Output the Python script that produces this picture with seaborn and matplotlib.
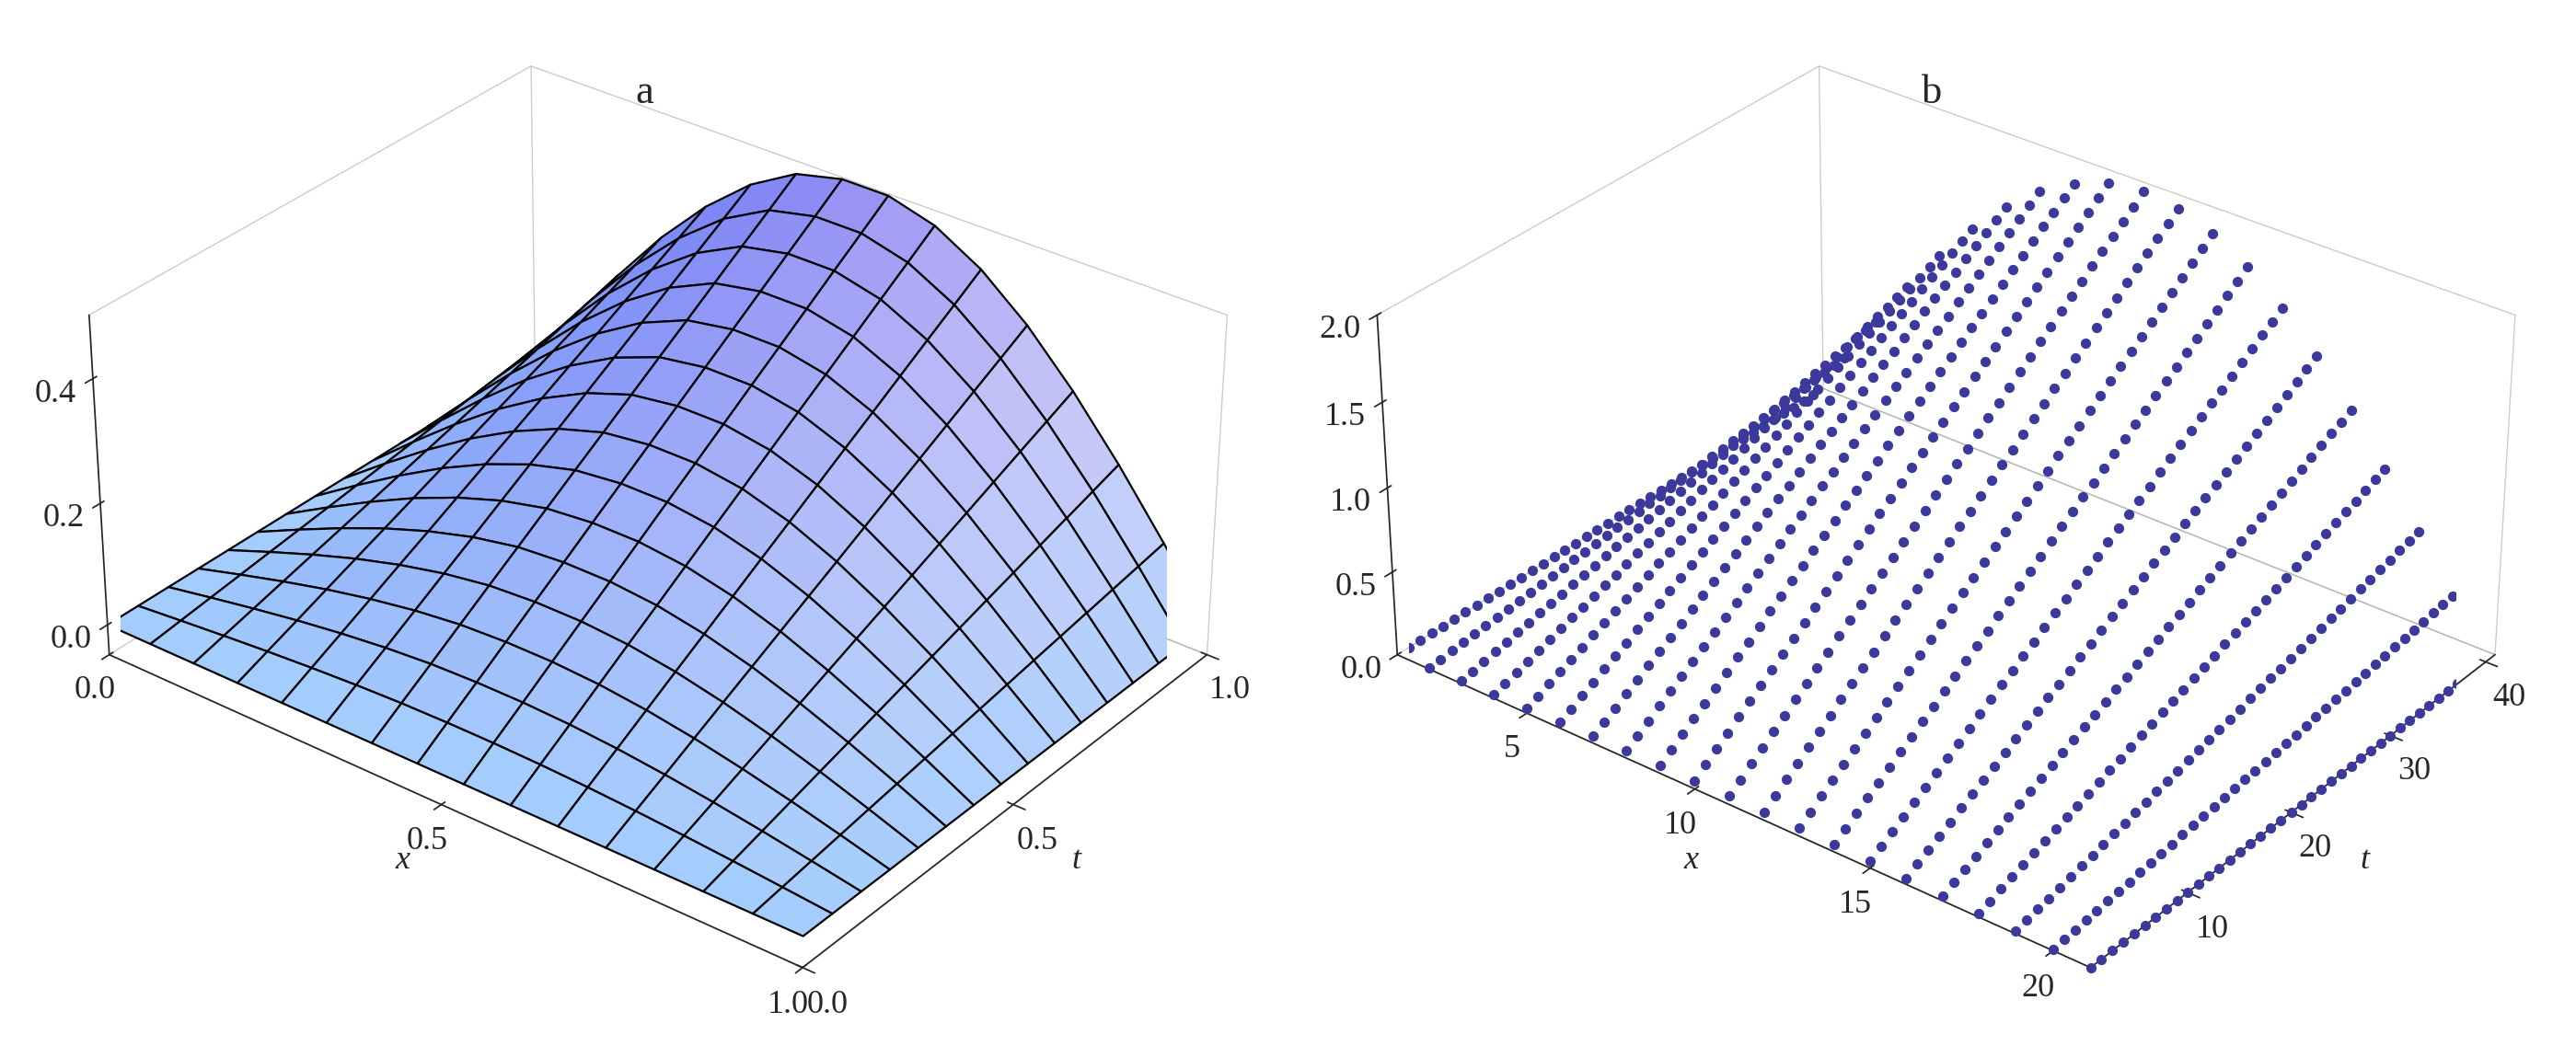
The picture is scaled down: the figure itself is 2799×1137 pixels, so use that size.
import numpy as np
import matplotlib
matplotlib.use("Agg")
import matplotlib.pyplot as plt
import seaborn as sns
from matplotlib.colors import to_rgb

sns.set_theme(style="white")
plt.rcParams['font.family'] = ['Liberation Serif', 'DejaVu Serif']

# Panel a: grid values
x_a = [0.0, 0.0667, 0.1333, 0.2, 0.2667, 0.3333, 0.4, 0.4667, 0.5333, 0.6, 0.6667, 0.7333, 0.8, 0.8667, 0.9333, 1.0]
t_a = [0.0, 0.0667, 0.1333, 0.2, 0.2667, 0.3333, 0.4, 0.4667, 0.5333, 0.6, 0.6667, 0.7333, 0.8, 0.8667, 0.9333, 1.0]
profile_a = [0.0, 0.104, 0.203, 0.294, 0.372, 0.435, 0.479, 0.497, 0.497, 0.476, 0.433, 0.371, 0.293, 0.203, 0.104, 0.0]
growth_a = [0.0, 0.067, 0.133, 0.2, 0.267, 0.333, 0.4, 0.467, 0.533, 0.6, 0.667, 0.733, 0.8, 0.867, 0.933, 1.0]

# Panel b: discrete points
x_b = list(range(1, 22))
t_b = list(range(1, 41))
profile_b = [0.0, 0.156, 0.309, 0.454, 0.588, 0.707, 0.809, 0.891, 0.951, 0.988, 1.0,
             0.988, 0.951, 0.891, 0.809, 0.707, 0.588, 0.454, 0.309, 0.156, 0.0]
growth_b = [i / 40 * 2.0 for i in t_b]

fig = plt.figure(figsize=(27.99, 11.37), dpi=100)

def style(ax):
    ax.xaxis.pane.fill = False
    ax.yaxis.pane.fill = False
    ax.zaxis.pane.fill = False
    for a in (ax.xaxis, ax.yaxis, ax.zaxis):
        a.pane.set_edgecolor('#999999')
        a._axinfo['grid']['linewidth'] = 0
        a._axinfo['grid']['color'] = (1, 1, 1, 0)
    ax.grid(False)
    ax.tick_params(labelsize=26, pad=6)
    ax.zaxis.set_ticks_position('lower')
    ax.zaxis.set_label_position('lower')

ELEV, AZIM = 31, -52
ASPECT = (1.6, 1.25, 0.72)
ZOOM = 1.1

# a
ax1 = fig.add_axes([0.0, 0.02, 0.5, 1.0], projection='3d')
X, T = np.meshgrid(x_a, t_a)
Z = np.outer(growth_a, profile_a)
low = np.array(to_rgb('#a4cdfd'))
blue = np.array(to_rgb('#3c46f2'))
pink = np.array(to_rgb('#ffe6f6'))
f = Z / 0.5
cols = np.zeros(Z.shape + (4,))
for i in range(Z.shape[0]):
    for j in range(Z.shape[1]):
        xx = X[i, j]
        top = blue * (1 - xx) + pink * xx
        w = f[i, j] ** 0.8
        c = low * (1 - w) + top * w
        cols[i, j] = list(np.clip(c, 0, 1)) + [1]
ax1.plot_surface(X, T, Z, facecolors=cols, edgecolor='black', linewidth=1.6, shade=False, rstride=1, cstride=1)
ax1.set_xlim(0, 1); ax1.set_ylim(0, 1); ax1.set_zlim(-0.05, 0.5)
ax1.set_xticks([0.0, 0.5, 1.0]); ax1.set_yticks([0.0, 0.5, 1.0]); ax1.set_zticks([0.0, 0.2, 0.4])
ax1.set_xlabel('x', fontsize=26, style='italic', labelpad=16)
ax1.set_ylabel('t', fontsize=26, style='italic', labelpad=16)
ax1.set_box_aspect(ASPECT, zoom=ZOOM)
ax1.view_init(elev=ELEV, azim=AZIM)
style(ax1)
ax1.set_title('a', fontsize=32, y=0.95)

# b
ax2 = fig.add_axes([0.5, 0.02, 0.5, 1.0], projection='3d')
XB, TB = np.meshgrid(x_b, t_b)
ZB = np.outer(growth_b, profile_b)
ax2.scatter(XB.ravel(), TB.ravel(), ZB.ravel(), color='#3b3a9c', s=50, depthshade=False)
ax2.set_xlim(1, 21); ax2.set_ylim(1, 41); ax2.set_zlim(0, 2.0)
ax2.set_xticks([5, 10, 15, 20]); ax2.set_yticks([10, 20, 30, 40]); ax2.set_zticks([0.0, 0.5, 1.0, 1.5, 2.0])
ax2.set_xlabel('x', fontsize=26, style='italic', labelpad=16)
ax2.set_ylabel('t', fontsize=26, style='italic', labelpad=16)
ax2.set_box_aspect(ASPECT, zoom=ZOOM)
ax2.view_init(elev=ELEV, azim=AZIM)
style(ax2)
ax2.set_title('b', fontsize=32, y=0.95)

fig.savefig('out.png', dpi=100, facecolor='white')
